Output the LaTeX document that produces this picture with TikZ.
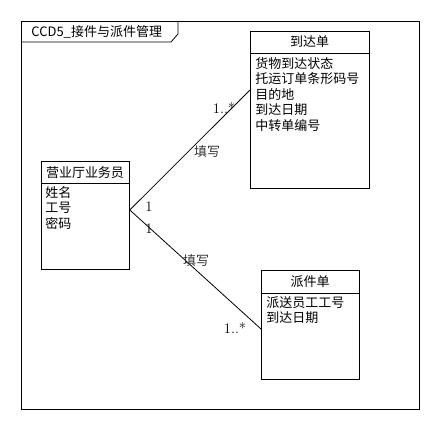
\documentclass[tikz,border=0pt]{standalone}
\usepackage{fontspec}
\newfontfamily\cjk{Noto Sans CJK SC}
\begin{document}
\begin{tikzpicture}[x=1pt,y=-1pt,line width=0.8pt,
  cls/.style={draw, anchor=north west, inner sep=0pt},
  hdr/.style={font=\cjk\fontsize{13}{15.5}\selectfont, inner sep=0pt, anchor=center},
  attrs/.style={font=\cjk\fontsize{13}{15.5}\selectfont, inner sep=0pt, anchor=north west, align=left},
  lbl/.style={font=\cjk\fontsize{13}{15.5}\selectfont, inner sep=0pt, text=black!80},
  mult/.style={font=\fontsize{14.5}{16}\selectfont, inner sep=0pt}]
\useasboundingbox (0,0) rectangle (440,430);
\fill[white] (0,0) rectangle (440,430);
% frame
\node[cls, minimum width=398pt, minimum height=388pt] (frame) at (21,21) {};
\draw (21,42) -- (171,42) -- (178,34) -- (178,21);
\node[font=\cjk\fontsize{13}{15.5}\selectfont, inner sep=0pt, anchor=west] (title) at (31,31.5) {CCD5\_接件与派件管理};
% classes
\node[cls, minimum width=119pt, minimum height=157pt] (arrive) at (250,31) {};
\draw (250,53) -- (369,53);
\node[hdr] (arriveh) at (309.5,42) {到达单};
\node[attrs] (arrivea) at (255,57) {货物到达状态\\托运订单条形码号\\目的地\\到达日期\\中转单编号};

\node[cls, minimum width=88pt, minimum height=108pt] (clerk) at (41,161) {};
\draw (41,183) -- (129,183);
\node[hdr] (clerkh) at (85,172.5) {营业厅业务员};
\node[attrs] (clerka) at (45,186) {姓名\\工号\\密码};

\node[cls, minimum width=98pt, minimum height=109pt] (disp) at (261,270) {};
\draw (261,293) -- (359,293);
\node[hdr] (disph) at (310,282) {派件单};
\node[attrs] (dispa) at (266,296) {派送员工工号\\到达日期};
% connectors
\draw ([yshift=-49pt]clerk.north east) -- ([yshift=-59pt]arrive.north west);
\draw ([yshift=-49pt]clerk.north east) -- ([yshift=-59pt]disp.north west);
% labels
\node[mult] (m1) at (224,108) {1..*};
\node[lbl] (l1) at (207,152) {填写};
\node[mult] (m2) at (149,207) {1};
\node[mult] (m3) at (149,229) {1};
\node[lbl] (l2) at (196,261) {填写};
\node[mult] (m4) at (235,328) {1..*};
\end{tikzpicture}
\end{document}
